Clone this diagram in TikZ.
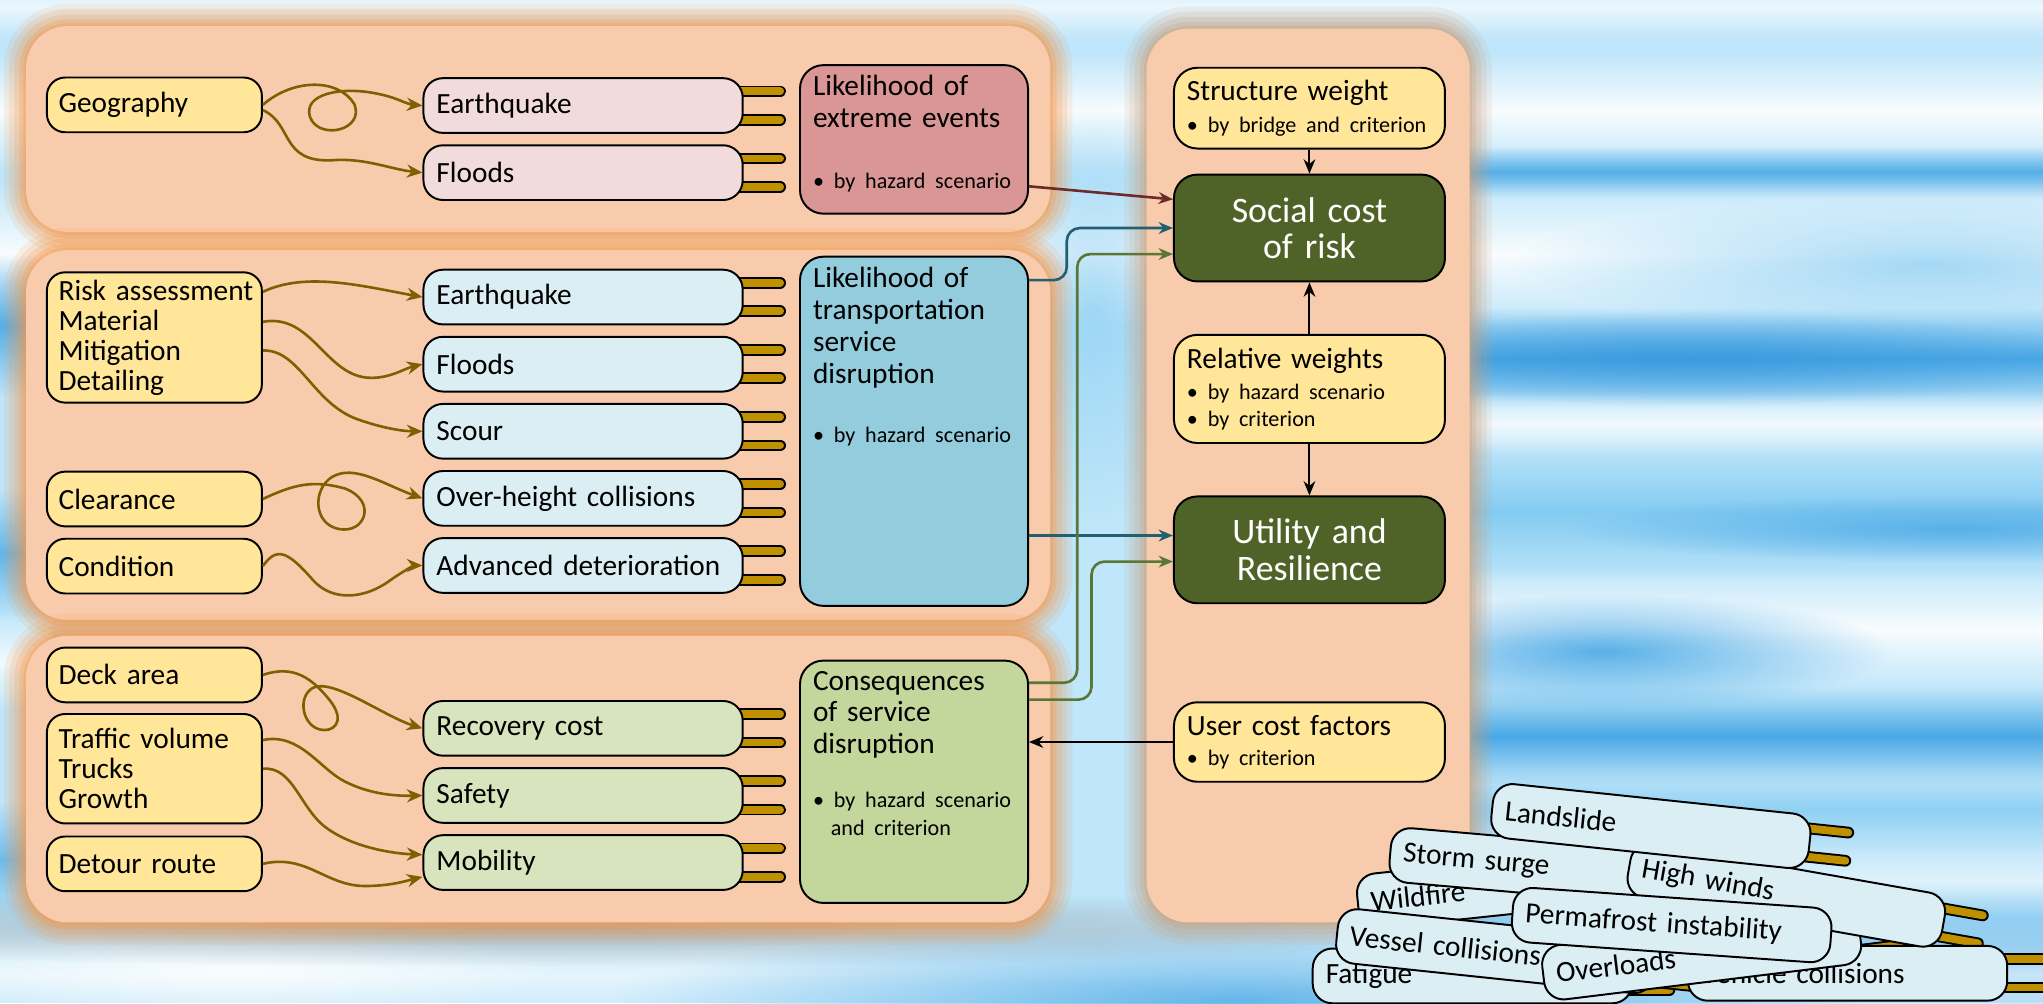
\documentclass[tikz,border=0pt]{standalone}
\usepackage{fontspec}
\setmainfont{Carlito}
\usetikzlibrary{arrows.meta, calc, fadings}

\definecolor{sky}{HTML}{BFE6FA}
\definecolor{skymid}{HTML}{84CBF2}
\definecolor{skydeep}{HTML}{4AA9E6}
\definecolor{skydark}{HTML}{3596DC}
\definecolor{panelfill}{HTML}{F7CBAC}
\definecolor{panelglow}{HTML}{F79646}
\definecolor{sideglow}{HTML}{C9A07C}
\definecolor{factorfill}{HTML}{FFE699}
\definecolor{pinkfill}{HTML}{F2DCDB}
\definecolor{bluefill}{HTML}{DBEEF4}
\definecolor{greenfill}{HTML}{D7E4BD}
\definecolor{redbox}{HTML}{D99694}
\definecolor{bluebox}{HTML}{93CDDD}
\definecolor{greenbox}{HTML}{C3D69B}
\definecolor{darkgreen}{HTML}{4F6228}
\definecolor{wire}{HTML}{7F6000}
\definecolor{plugfill}{HTML}{BF9000}
\definecolor{redwire}{HTML}{6B2B2B}
\definecolor{bluewire}{HTML}{215F72}
\definecolor{greenwire}{HTML}{5A7834}

\tikzfading[name=puff, inner color=transparent!0, outer color=transparent!100]
\tikzfading[name=band, top color=transparent!100, bottom color=transparent!100, middle color=transparent!0]

\pgfdeclarelayer{bg}
\pgfdeclarelayer{plug}
\pgfsetlayers{bg,plug,main}

\newcommand{\detail}{\fontsize{17}{21}\selectfont}

\tikzstyle{box} = [rectangle, 
draw=black, 
line width=1.5pt, 
align=left]
\tikzstyle{factor} = [box, 
rounded corners=14pt, 
fill=factorfill, 
text width=147pt, 
inner xsep=9pt, 
minimum height=42pt, 
font=\fontsize{22.5}{23}\selectfont]
\tikzstyle{hazard} = [box, 
rounded corners=15pt, 
text width=225pt, 
inner xsep=10pt, 
minimum height=42pt, 
font=\fontsize{22.5}{23}\selectfont]
\tikzstyle{loose} = [hazard, fill=bluefill]
\tikzstyle{likely} = [box, 
rounded corners=18pt, 
text width=155pt, 
inner xsep=10pt, 
inner ysep=8pt, 
font=\fontsize{22.5}{24.5}\selectfont]
\tikzstyle{weight} = [box, 
rounded corners=18pt, 
fill=factorfill, 
text width=188pt, 
inner xsep=10pt, 
font=\fontsize{22.5}{24}\selectfont]
\tikzstyle{goal} = [box, 
rounded corners=18pt, 
fill=darkgreen, 
text=white, 
text width=188pt, 
inner xsep=10pt, 
align=center, 
minimum height=82pt, 
font=\fontsize{27.5}{28}\selectfont]
\tikzstyle{wiggle} = [line width=2pt, draw=wire, -{Stealth[length=12pt,width=10pt]}]
\tikzstyle{link} = [line width=1.5pt, -{Stealth[length=11pt,width=9pt]}]
\tikzstyle{redlink} = [link, line width=2pt, draw=redwire]
\tikzstyle{bluelink} = [link, line width=2pt, draw=bluewire, rounded corners=10pt]
\tikzstyle{greenlink} = [link, line width=2pt, draw=greenwire, rounded corners=10pt]
\tikzstyle{plugrim} = [line width=9pt, line cap=round, draw=black]
\tikzstyle{plugcore} = [line width=6pt, line cap=round, draw=plugfill]

% two brass pins on the right end of a hazard box
\newcommand{\plugs}[1]{%
  \begin{pgfonlayer}{plug}
    \foreach \fr in {0.25,0.75} {
      \coordinate (pa) at ($(#1.north east)!\fr!(#1.south east)$);
      \coordinate (pb) at ($(#1.north west)!\fr!(#1.south west)$);
      \draw[plugrim] ($(pa)!6pt!(pb)$) -- ($(pa)!-28pt!(pb)$);
      \draw[plugcore] ($(pa)!6pt!(pb)$) -- ($(pa)!-28pt!(pb)$);
    }
  \end{pgfonlayer}}

% salmon panel with a soft glow round it
\newcommand{\panel}[5]{%
  \foreach \w/\o in {34/0.12, 26/0.16, 18/0.2, 10/0.26, 4/0.3}
    \draw[draw=#5, line width=\w pt, opacity=\o, rounded corners=32pt] (#1,#2) rectangle (#3,#4);
  \fill[panelfill, rounded corners=32pt] (#1,#2) rectangle (#3,#4);}

\begin{document}
\begin{tikzpicture}[x=1pt, y=-1pt, node distance=51.5pt]
  \useasboundingbox (0,0) rectangle (1568,770);

  \begin{pgfonlayer}{bg}
    % sky, in soft horizontal streaks
    \fill[sky] (0,0) rectangle (1568,770);
    \foreach \xa/\ya/\xb/\yb/\c/\o in {-10/-20/1600/30/white/0.7,
      -10/40/1600/130/white/0.9, 1100/112/1600/152/skydeep/0.9, -10/140/1600/250/white/0.9,
      1100/236/1600/314/skydeep/1, 1100/300/1600/350/white/0.8, 1100/340/1600/446/skymid/1,
      1100/436/1600/530/white/0.9, 1100/528/1600/602/skydeep/1, 1100/592/1600/652/skymid/0.8,
      1100/650/1600/700/white/0.5, 1100/680/1600/790/skydeep/0.8,
      -10/195/40/305/skydeep/0.9, -10/375/40/475/skydeep/0.8, -10/470/40/545/white/0.8,
      -10/615/40/705/skydeep/0.7, -10/705/1600/790/white/0.6}
      \fill[\c, opacity=\o, path fading=band] (\xa,\ya) rectangle (\xb,\yb);
    \foreach \x/\y/\a/\b/\c/\o in {1480/203/320/50/skymid/0.7, 1300/275/320/36/skydark/0.7,
      1500/406/300/26/skydeep/0.8, 1230/500/220/44/skydeep/0.9, 950/768/480/60/skydeep/0.8,
      840/240/80/160/skymid/0.6, 180/745/260/34/white/0.8}
      \fill[\c, opacity=\o, path fading=puff] (\x,\y) ellipse (\a pt and \b pt);

    % panels
    \fill[gray, opacity=.5, path fading=puff] (420,712) ellipse (800pt and 30pt);
    \panel{20}{20}{806}{178}{panelglow}
    \panel{20}{192}{806}{476}{panelglow}
    \panel{20}{488}{806}{708}{panelglow}
    \panel{880}{22}{1128}{708}{sideglow}
  \end{pgfonlayer}

  % extreme events
  \node (geo) [factor] at (118.5,80.5) {Geography};
  \node (eqA) [hazard, fill=pinkfill] at (447.5,81) {Earthquake};
  \node (flA) [hazard, fill=pinkfill, below of=eqA] {Floods};
  \node (ext) [likely, fill=redbox] at (701.5,107) {\parbox[c][98pt][t]{155pt}{\raggedright Likelihood of\\extreme events\\[22pt]{\detail\mbox{• by hazard scenario}}}};

  % transportation service
  \node (risk) [factor, minimum height=100pt] at (118.5,259) {\mbox{Risk assessment}\\Material\\Mitigation\\Detailing};
  \node (clear) [factor] at (118.5,383) {Clearance};
  \node (cond) [factor, below of=clear] {Condition};
  \node (eqB) [hazard, fill=bluefill] at (447.5,228) {Earthquake};
  \node (flB) [hazard, fill=bluefill, below of=eqB] {Floods};
  \node (scour) [hazard, fill=bluefill, below of=flB] {Scour};
  \node (over) [hazard, fill=bluefill, below of=scour] {Over-height collisions};
  \node (adv) [hazard, fill=bluefill, below of=over] {Advanced deterioration};
  \node (trans) [likely, fill=bluebox] at (701.5,331) {\parbox[c][252pt][t]{155pt}{\raggedright Likelihood of\\transportation\\service\\disruption\\[21pt]{\detail\mbox{• by hazard scenario}}}};

  % consequences
  \node (deck) [factor] at (118.5,518) {Deck area};
  \node (traffic) [factor, minimum height=84pt] at (118.5,590) {Traffic volume\\Trucks\\Growth};
  \node (detour) [factor] at (118.5,663) {Detour route};
  \node (cost) [hazard, fill=greenfill] at (447.5,559) {Recovery cost};
  \node (safe) [hazard, fill=greenfill, below of=cost] {Safety};
  \node (mob) [hazard, fill=greenfill, below of=safe] {Mobility};
  \node (cons) [likely, fill=greenbox] at (701.5,600) {\parbox[c][170pt][t]{155pt}{\raggedright Consequences\\of service\\disruption\\[17pt]{\detail\mbox{• by hazard scenario}}\\[-3.5pt]{\detail\hspace*{0.8em}and criterion}}};

  \foreach \n in {eqA,flA,eqB,flB,scour,over,adv,cost,safe,mob} \plugs{\n};

  % weights and results
  \node (sw) [weight, minimum height=62pt] at (1005,83) {Structure weight\\{\detail\mbox{• by bridge and criterion}}};
  \node (soc) [goal] at (1005,175) {Social cost\\of risk};
  \node (rw) [weight, minimum height=83pt] at (1005,298.5) {Relative weights\\{\detail • by hazard scenario}\\[-3pt]{\detail • by criterion}};
  \node (util) [goal] at (1005,422) {Utility and\\Resilience};
  \node (ucf) [weight, minimum height=61pt] at (1005,569.5) {User cost factors\\[-1pt]{\detail • by criterion}};

  % tangled inputs
  \draw [wiggle] (geo.east) .. controls (225,60) and (260,60) .. (272,80) .. controls (280,100) and (245,108) .. (238,90) .. controls (232,72) and (262,66) .. (290,72) .. controls (305,75) and (312,80) .. (eqA.west);
  \draw [wiggle] ([yshift=-4pt]geo.east) .. controls (225,95) and (215,125) .. (255,123) .. controls (280,121) and (300,130) .. (flA.west);
  \draw [wiggle] ([yshift=35pt]risk.east) .. controls (235,208) and (280,220) .. (eqB.west);
  \draw [wiggle] ([yshift=12pt]risk.east) .. controls (240,240) and (250,290) .. (285,290) .. controls (300,290) and (310,283) .. (flB.west);
  \draw [wiggle] ([yshift=-10pt]risk.east) .. controls (230,268) and (240,310) .. (275,322) .. controls (295,329) and (310,331) .. (scour.west);
  \draw [wiggle] (clear.east) .. controls (225,372) and (240,368) .. (265,375) .. controls (290,385) and (280,410) .. (260,406) .. controls (240,402) and (240,375) .. (255,366) .. controls (272,356) and (295,372) .. (over.west);
  \draw [wiggle] (cond.east) .. controls (212,420) and (220,422) .. (240,445) .. controls (255,462) and (280,460) .. (300,445) .. controls (310,438) and (318,434) .. (adv.west);
  \draw [wiggle] (deck.east) .. controls (225,510) and (240,520) .. (255,540) .. controls (265,555) and (255,562) .. (246,560) .. controls (232,557) and (228,535) .. (240,528) .. controls (255,520) and (295,550) .. (cost.west);
  \draw [wiggle] ([yshift=22pt]traffic.east) .. controls (230,562) and (245,590) .. (265,600) .. controls (285,610) and (305,611) .. (safe.west);
  \draw [wiggle] (traffic.east) .. controls (225,588) and (230,620) .. (250,635) .. controls (270,650) and (300,655) .. ([yshift=6pt]mob.west);
  \draw [wiggle] (detour.east) .. controls (235,655) and (250,680) .. (280,680) .. controls (300,680) and (312,676) .. ([yshift=-11pt]mob.west);

  % into the results
  \coordinate (trans-low) at ([yshift=11pt]util.west -| trans.east);
  \draw [redlink] ([yshift=-36pt]ext.east) -- ([yshift=22pt]soc.west);
  \draw [bluelink] ([yshift=116pt]trans.east) -- ++(29,0) |- (soc.west);
  \draw [bluelink] (trans-low) -- (trans-low -| util.west);
  \draw [greenlink] ([yshift=76pt]cons.east) -- ++(37,0) |- ([yshift=-20pt]soc.west);
  \draw [greenlink] ([yshift=63pt]cons.east) -- ++(48,0) |- ([yshift=-9pt]util.west);
  \draw [link] (sw) -- (soc);
  \draw [link] (rw) -- (soc);
  \draw [link] (rw) -- (util);
  \draw [link] (ucf.west) -- (ucf.west -| cons.east);

  % pile of other hazards
  \node (fat) [loose] at (1130,749) {Fatigue};
  \node (veh) [loose] at (1418,747) {Vehicle collisions};
  \node (wild) [loose, rotate=6] at (1164,680) {Wildfire};
  \node (storm) [loose, rotate=-5] at (1189,666) {Storm surge};
  \node (ves) [loose, rotate=-6] at (1148,730) {Vessel collisions};
  \node (load) [loose, rotate=7] at (1306,733) {Overloads};
  \node (wind) [loose, rotate=-10] at (1371,687) {High winds};
  \node (perm) [loose, rotate=-4] at (1283,710) {Permafrost instability};
  \node (land) [loose, rotate=-6] at (1267,634) {Landslide};
  \foreach \n in {fat,veh,wild,storm,ves,load,wind,perm,land} \plugs{\n};
\end{tikzpicture}
\end{document}
